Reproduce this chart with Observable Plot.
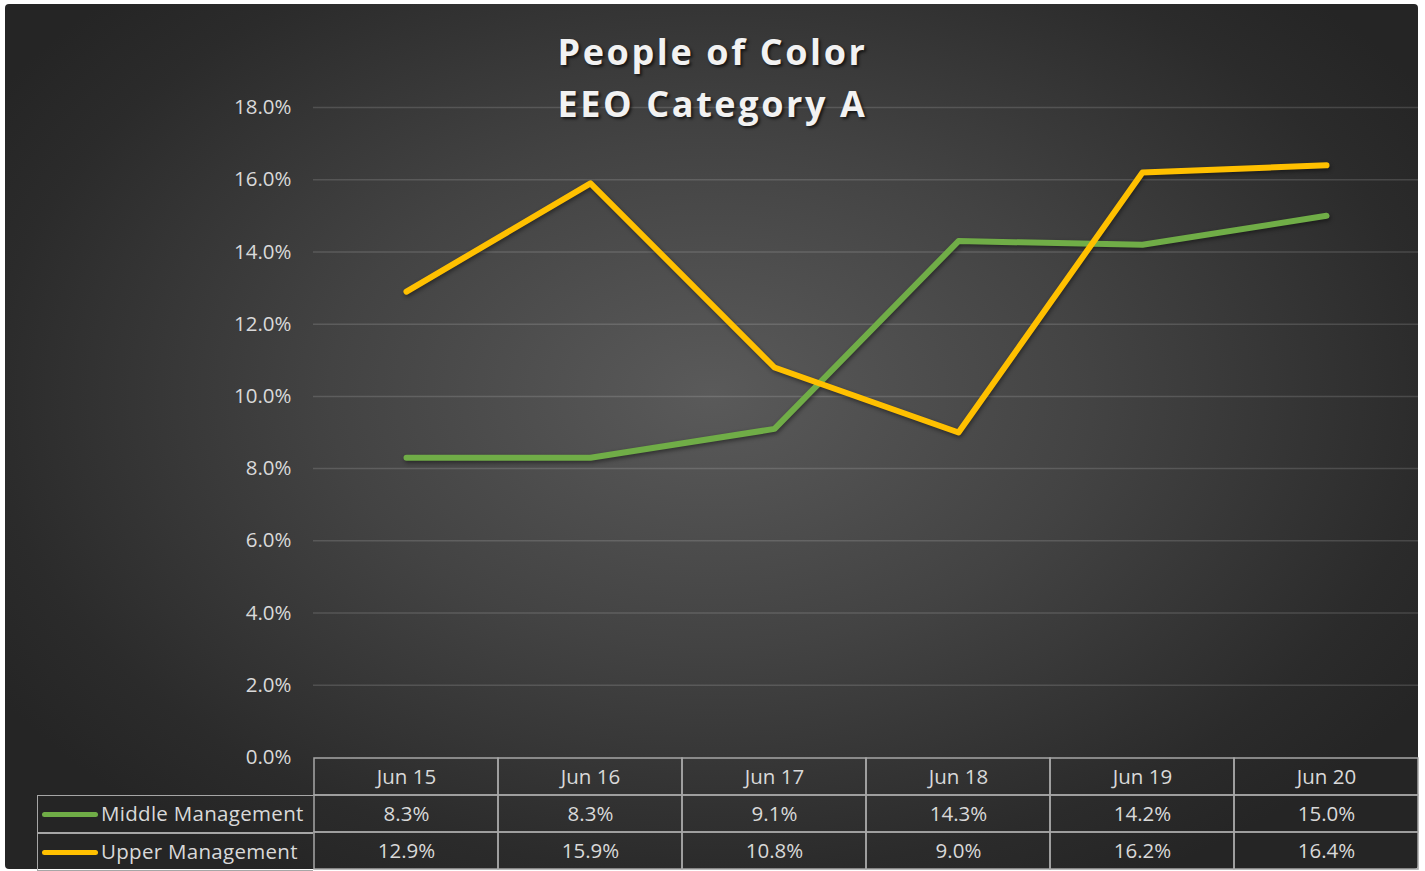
<!DOCTYPE html>
<html>
<head>
<meta charset="utf-8">
<script src="https://cdn.jsdelivr.net/npm/d3@7"></script>
<script src="https://cdn.jsdelivr.net/npm/@observablehq/plot@0.6"></script>
<style>
  html, body { margin: 0; padding: 0; background: #ffffff; }
  #wrap { position: relative; width: 1425px; height: 871px; overflow: hidden; font-family: "Open Sans", sans-serif; }
  #panel { position: absolute; left: 5px; top: 4px; width: 1413px; height: 865px; border-radius: 4px;
    background: radial-gradient(ellipse 60% 65% at 50% 45%, #5a5a5a 0%, #434343 45%, #2b2b2b 85%, #252525 100%); }
  #title { position: absolute; left: 0; width: 1425px; top: 26px; text-align: center; color: #f2f2f2;
    font-weight: 700; font-size: 36px; line-height: 52px; letter-spacing: 2.6px;
    text-shadow: 2px 2px 3px rgba(0,0,0,0.65); }
  .abs { position: absolute; left: 0; top: 0; }
  #main svg g[aria-label="line"] { filter: drop-shadow(1px 2px 2px rgba(0,0,0,0.45)); }
  #legendcol { position: absolute; left: 37px; top: 795px; width: 276px; height: 75px; box-sizing: border-box; }
  .lrow { position: absolute; left: 0; width: 276px; height: 38px; border: 1.5px solid #a6a6a6; border-right: none; box-sizing: border-box;
    color: #d9d9d9; font-size: 20.5px; line-height: 34px; white-space: nowrap; letter-spacing: 0.3px; }
  .sw { display: inline-block; width: 56px; height: 5px; border-radius: 3px; vertical-align: middle; margin-left: 4px; margin-right: 3px; position: relative; top: -1px; }
</style>
</head>
<body>
<div id="wrap">
  <div id="panel"></div>
  <div id="main" class="abs"></div>
  <div id="table" class="abs" style="top:756px"></div>
  <div id="legendcol"></div>
  <div id="title">People of Color<br>EEO Category A</div>
</div>
<script>
const months = ["Jun 15", "Jun 16", "Jun 17", "Jun 18", "Jun 19", "Jun 20"];
const seriesNames = ["Middle Management", "Upper Management"];
const seriesColors = ["#70ad47", "#ffc000"];
const middleManagement = [8.3, 8.3, 9.1, 14.3, 14.2, 15.0];
const upperManagement = [12.9, 15.9, 10.8, 9.0, 16.2, 16.4];
const yTicks = [0, 2, 4, 6, 8, 10, 12, 14, 16, 18];

const seriesValues = [middleManagement, upperManagement];
const data = [];
seriesNames.forEach((name, si) => {
  months.forEach((m, i) => data.push({series: name, month: m, value: seriesValues[si][i]}));
});
const fmt = d => d.toFixed(1) + "%";

const main = Plot.plot({
  width: 1425, height: 871,
  marginLeft: 313, marginRight: 7, marginTop: 107, marginBottom: 114,
  style: {background: "transparent", color: "#d9d9d9", fontFamily: "Open Sans, sans-serif", fontSize: "20.5px", overflow: "visible"},
  x: {type: "point", domain: months, padding: 0.5, axis: null},
  y: {domain: [0, 18], axis: null},
  color: {domain: seriesNames, range: seriesColors},
  marks: [
    Plot.gridY(yTicks.filter(t => t > 0), {stroke: "#ffffff", strokeOpacity: 0.14, strokeWidth: 1.5}),
    Plot.axisY({ticks: yTicks, tickSize: 0, tickPadding: 22, tickFormat: fmt, label: null, fill: "#d9d9d9", fontSize: 20.5}),
    Plot.line(data, {x: "month", y: "value", z: "series", stroke: "series", strokeWidth: 6, strokeLinejoin: "round", strokeLinecap: "round"})
  ]
});
document.getElementById("main").appendChild(main);

const rows = ["header", ...seriesNames];
const cells = [];
months.forEach((m, i) => {
  cells.push({row: "header", month: m, text: m});
  seriesNames.forEach((name, si) => cells.push({row: name, month: m, text: fmt(seriesValues[si][i])}));
});
const table = Plot.plot({
  width: 1425, height: 115,
  marginLeft: 313, marginRight: 7, marginTop: 1, marginBottom: 1,
  style: {background: "transparent", color: "#d9d9d9", fontFamily: "Open Sans, sans-serif", fontSize: "20.5px", overflow: "visible"},
  x: {type: "band", domain: months, padding: 0, axis: null},
  y: {type: "band", domain: rows, padding: 0, axis: null},
  marks: [
    Plot.cell(cells, {x: "month", y: "row", fill: "none", stroke: "#a6a6a6", strokeWidth: 1.5}),
    Plot.text(cells, {x: "month", y: "row", text: "text", fill: "#d9d9d9", fontSize: 20.5})
  ]
});
document.getElementById("table").appendChild(table);

const lc = document.getElementById("legendcol");
seriesNames.forEach((name, i) => {
  const r = document.createElement("div");
  r.className = "lrow";
  r.style.top = (i * 37.5) + "px";
  const sw = document.createElement("span");
  sw.className = "sw";
  sw.style.background = seriesColors[i];
  r.appendChild(sw);
  r.appendChild(document.createTextNode(name));
  lc.appendChild(r);
});
</script>
</body>
</html>
